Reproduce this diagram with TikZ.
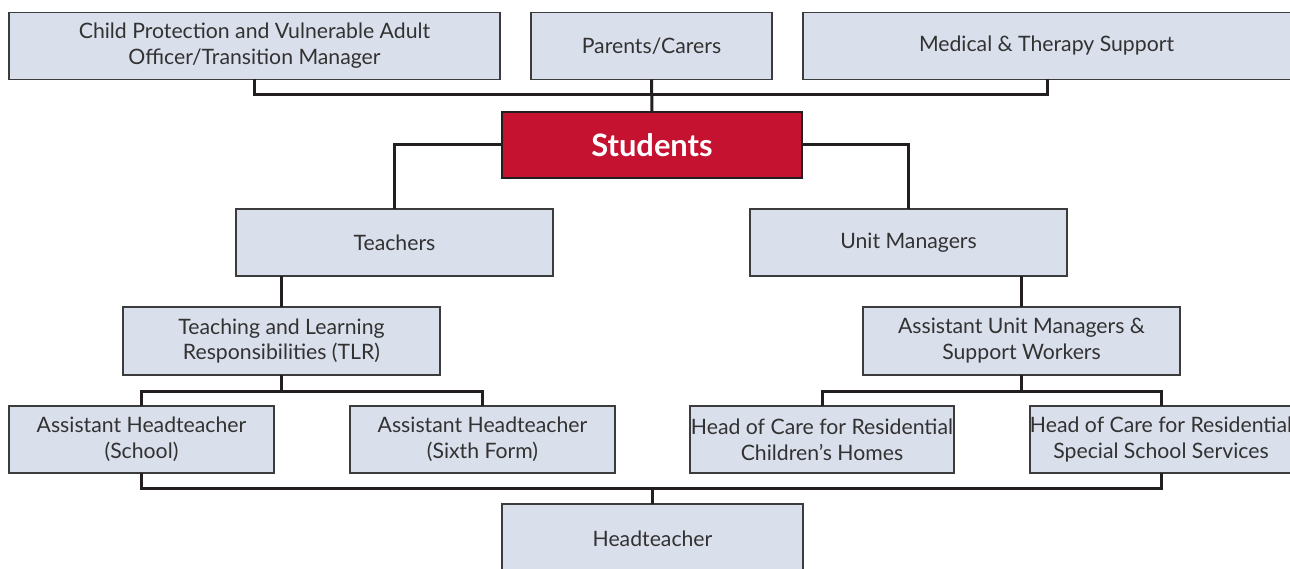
\documentclass[tikz,border=0pt]{standalone}
\usepackage{fontspec}
\setmainfont{Lato}
\definecolor{boxfill}{RGB}{218,223,236}
\definecolor{boxline}{RGB}{60,60,60}
\definecolor{txt}{RGB}{50,50,50}
\definecolor{stured}{RGB}{196,18,48}
\definecolor{conn}{RGB}{35,31,32}
\begin{document}
\begin{tikzpicture}[x=1bp,y=-1bp,
  box/.style={draw=boxline,fill=boxfill,line width=1.3bp,inner sep=0pt,outer sep=0pt,
    align=center,text=txt,font=\fontsize{21.3}{26}\selectfont,minimum height=67bp},
  redbox/.style={draw=conn,fill=stured,line width=2.2bp,inner sep=0pt,outer sep=0pt,
    align=center,text=white,font=\fontsize{31}{34}\selectfont\bfseries,minimum height=66bp},
  link/.style={draw=conn,line width=3bp}]
\useasboundingbox (0,0) rectangle (1290,569);
\clip (0,0) rectangle (1290,569);
% top row
\node[box,minimum width=491bp] (cp) at (254.5,46) {Child Protection and Vulnerable Adult\\Officer/Transition Manager};
\node[box,minimum width=241bp] (par) at (651.5,46) {Parents/Carers};
\node[box,minimum width=489bp] (med) at (1047.5,46) {\hspace*{-2bp}Medical \& Therapy Support};
% students
\node[redbox,minimum width=300bp] (stu) at (652,145) {Students};
% second row
\node[box,minimum width=317bp] (tea) at (394.5,242.5) {Teachers};
\node[box,minimum width=317bp] (um) at (908.5,242.5) {Unit Managers};
% third row
\node[box,minimum width=317bp,minimum height=68bp] (tlr) at (281.5,341) {Teaching and Learning\\Responsibilities (TLR)};
\node[box,minimum width=317bp,minimum height=68bp] (aum) at (1021.5,341) {Assistant Unit Managers \&\\Support Workers};
% fourth row
\node[box,minimum width=265bp] (ahs) at (141.5,439.5) {Assistant Headteacher\\(School)};
\node[box,minimum width=265bp] (ah6) at (482.5,439.5) {Assistant Headteacher\\(Sixth Form)};
\node[box,minimum width=264bp] (hoc1) at (822,439.5) {Head of Care for Residential\\Children's Homes};
\node[box,minimum width=262bp] (hoc2) at (1161,439.5) {Head of Care for Residential\\Special School Services};
% headteacher
\node[box,minimum width=301bp,minimum height=70bp] (head) at (652.5,539) {Headteacher};
% junctions
\coordinate (j1) at (652,95);
\coordinate (j2) at (281.5,391);
\coordinate (j3) at (1021.5,391);
\coordinate (j4) at (652.5,488);
% connectors
\draw[link] (cp.south) |- (j1) -| (med.south);
\draw[link] (par.south) -- (stu.north);
\draw[link] (stu.west) -| (tea.north);
\draw[link] (stu.east) -| (um.north);
\draw[link] (tea.south -| tlr.north) -- (tlr.north);
\draw[link] (um.south -| aum.north) -- (aum.north);
\draw[link] (tlr.south) -- (j2);
\draw[link] (ahs.north) |- (j2) -| (ah6.north);
\draw[link] (aum.south) -- (j3);
\draw[link] (hoc1.north) |- (j3) -| (hoc2.north);
\draw[link] (ahs.south) |- (j4) -| (hoc2.south);
\draw[link] (j4) -- (head.north);
\end{tikzpicture}
\end{document}
